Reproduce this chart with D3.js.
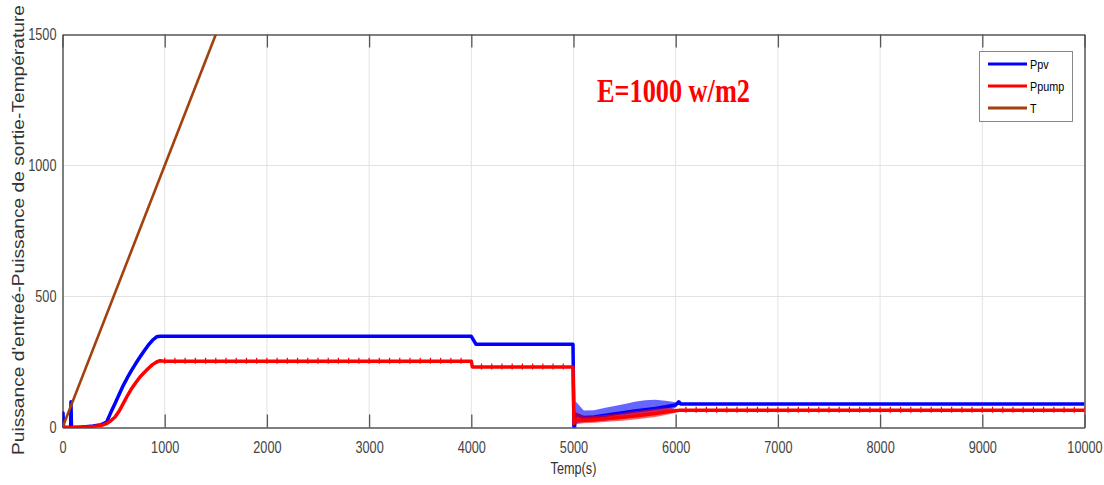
<!DOCTYPE html>
<html>
<head>
<meta charset="utf-8">
<script src="https://cdn.jsdelivr.net/npm/d3@7"></script>
<style>
  html, body { margin: 0; padding: 0; background: #fff; }
  svg { display: block; }
</style>
</head>
<body>
<svg id="chart" width="1104" height="485"></svg>
<script>
// ---- axis ticks ----
const xTicks = [0, 1000, 2000, 3000, 4000, 5000, 6000, 7000, 8000, 9000, 10000];
const yTicks = [0, 500, 1000, 1500];

// ---- Ppv : PV input power ----
const ppvTime  = [0, 5, 10, 80, 83, 88, 150, 200, 203, 206, 300, 380, 432, 470, 514, 555, 595, 636, 677, 718, 758, 800, 839, 880, 921, 954, 1000, 4000, 4045, 4995, 5005, 5020, 5100, 5200, 5300, 5400, 5500, 5600, 5700, 5800, 5900, 6000, 6030, 6050, 10000];
const ppvValue = [0, 55, 0, 0, 98, 0, 1, 2, -15, 2, 6, 11, 21, 55, 92, 127, 161, 191, 219, 245, 269, 293, 314, 333, 346, 348, 348, 348, 318, 318, -25, 50, 38, 40, 46, 52, 57, 63, 68, 73, 79, 86, 98, 90, 90];

// ---- Ppump : pump output power ----
const pumpTime  = [0, 100, 200, 300, 380, 432, 470, 514, 555, 595, 636, 677, 718, 758, 800, 839, 880, 921, 954, 1000, 4000, 4010, 4995, 5005, 5020, 5100, 5200, 5300, 5400, 5500, 5600, 5700, 5800, 5900, 6000, 6040, 10000];
const pumpValue = [0, 0, 1, 4, 8, 15, 25, 40, 63, 92, 122, 149, 172, 193, 210, 225, 240, 250, 255, 253, 253, 231, 231, 15, 30, 28, 30, 33, 37, 40, 44, 49, 53, 59, 64, 66, 66];

// ---- T : temperature ramp ----
const tempTime  = [0, 1500];
const tempValue = [0, 1500];

// ---- oscillation envelope during the 5000-6000 s transient ----
const bandTime = [5020, 5100, 5200, 5300, 5400, 5500, 5600, 5700, 5800, 5900, 6000];
const ppvLow   = [15, 20, 22, 26, 30, 34, 40, 45, 50, 58, 76];
const ppvHigh  = [100, 65, 66, 74, 82, 90, 98, 104, 106, 102, 96];
const pumpLow  = [12, 16, 18, 21, 24, 27, 31, 35, 40, 48, 56];
const pumpHigh = [60, 42, 44, 48, 52, 56, 62, 67, 72, 74, 72];

// ---- switching ripple on the pump power: [start, end, level] ----
const rippleSpans = [[1000, 3900, 253], [4100, 4900, 231], [6100, 10000, 66]];
const ripplePeriod = 100;

// ---- legend entries ----
const seriesNames  = ["Ppv", "Ppump", "T"];
const seriesColors = ["#0000ff", "#ff0000", "#a2400e"];

const titleText  = "E=1000 w/m2";
const xLabelText = "Temp(s)";
const yLabelText = "Puissance d'entreé-Puissance de sortie-Température";

// ---------------------------------------------------------------
const svg = d3.select("#chart");
const plotL = 62.5, plotR = 1084.5, plotT = 34.5, plotB = 427.5;

const x = d3.scaleLinear().domain([0, 10000]).range([plotL, plotR]);
const y = d3.scaleLinear().domain([0, 1500]).range([plotB, plotT]);

const font = "'Liberation Sans', Arial, sans-serif";

// squeeze text horizontally to a narrow face (keeps its anchor point in place)
function condense(sel, k) {
  sel.each(function () {
    const el = d3.select(this);
    const x0 = +el.attr("x") || 0;
    el.attr("x", x0 / k).attr("transform", `scale(${k},1)`);
  });
}

svg.append("defs").append("clipPath").attr("id", "plotClip")
  .append("rect").attr("x", plotL).attr("y", plotT).attr("width", plotR - plotL).attr("height", plotB - plotT);

// grid
const grid = svg.append("g");
grid.selectAll("line.vx").data(xTicks.slice(1, -1)).join("line")
  .attr("x1", d => x(d)).attr("x2", d => x(d)).attr("y1", plotT).attr("y2", plotB)
  .attr("stroke", "#e3e3e3").attr("stroke-width", 1);
grid.selectAll("line.hy").data(yTicks.slice(1, -1)).join("line")
  .attr("x1", plotL).attr("x2", plotR).attr("y1", d => y(d)).attr("y2", d => y(d))
  .attr("stroke", "#e3e3e3").attr("stroke-width", 1);

// bottom axis with inward ticks
const xAxis = svg.append("g").attr("transform", `translate(0,${plotB})`)
  .call(d3.axisBottom(x).tickValues(xTicks).tickFormat(d3.format("d")).tickSizeInner(-13).tickSizeOuter(0).tickPadding(26));
xAxis.select(".domain").attr("stroke", "#555").attr("stroke-width", 1.5);
xAxis.selectAll(".tick line").attr("stroke", "#555").attr("stroke-width", 1.3);
xAxis.selectAll(".tick text").attr("font-family", font).attr("font-size", 16.5).attr("fill", "#444").attr("dy", "0");
condense(xAxis.selectAll(".tick text"), 0.77);

// top axis (ticks only)
const xTop = svg.append("g").attr("transform", `translate(0,${plotT})`)
  .call(d3.axisTop(x).tickValues(xTicks).tickFormat("").tickSizeInner(-13).tickSizeOuter(0));
xTop.select(".domain").attr("stroke", "#555").attr("stroke-width", 1.5);
xTop.selectAll(".tick line").attr("stroke", "#555").attr("stroke-width", 1.3);

// left axis
const yAxis = svg.append("g").attr("transform", `translate(${plotL},0)`)
  .call(d3.axisLeft(y).tickValues(yTicks).tickFormat(d3.format("d")).tickSize(0).tickPadding(6));
yAxis.select(".domain").attr("stroke", "#555").attr("stroke-width", 1.5);
yAxis.selectAll(".tick text").attr("font-family", font).attr("font-size", 16.5).attr("fill", "#444");
condense(yAxis.selectAll(".tick text"), 0.77);

// right border
const yRight = svg.append("g").attr("transform", `translate(${plotR},0)`)
  .call(d3.axisRight(y).tickValues(yTicks).tickFormat("").tickSize(0));
yRight.select(".domain").attr("stroke", "#555").attr("stroke-width", 1.5);

// ---- series ----
const plot = svg.append("g").attr("clip-path", "url(#plotClip)");
const line = d3.line().x(d => x(d[0])).y(d => y(d[1]));
const area = d3.area().x(d => x(d[0])).y0(d => y(d[1])).y1(d => y(d[2]));

const zip2 = (a, b) => a.map((t, i) => [t, b[i]]);
const zip3 = (a, b, c) => a.map((t, i) => [t, b[i], c[i]]);

// Ppv
plot.append("path").datum(zip3(bandTime, ppvLow, ppvHigh)).attr("d", area)
  .attr("fill", seriesColors[0]).attr("opacity", 0.6);
plot.append("path").datum(zip2(ppvTime, ppvValue)).attr("d", line)
  .attr("fill", "none").attr("stroke", seriesColors[0]).attr("stroke-width", 3.5).attr("stroke-linejoin", "round");

// Ppump
plot.append("path").datum(zip3(bandTime, pumpLow, pumpHigh)).attr("d", area)
  .attr("fill", seriesColors[1]).attr("opacity", 0.6);
plot.append("path").datum(zip2(pumpTime, pumpValue)).attr("d", line)
  .attr("fill", "none").attr("stroke", seriesColors[1]).attr("stroke-width", 3.5).attr("stroke-linejoin", "round");
const ripple = [];
rippleSpans.forEach(([a, b, lvl]) => d3.range(a, b + 1, ripplePeriod).forEach(t => ripple.push([t, lvl])));
plot.selectAll("line.ripple").data(ripple).join("line")
  .attr("x1", d => x(d[0])).attr("x2", d => x(d[0]))
  .attr("y1", d => y(d[1] + 13)).attr("y2", d => y(d[1] - 10))
  .attr("stroke", seriesColors[1]).attr("stroke-width", 1.2);

// T
plot.append("path").datum(zip2(tempTime, tempValue)).attr("d", line)
  .attr("fill", "none").attr("stroke", seriesColors[2]).attr("stroke-width", 2.6);

// ---- annotation ----
const title = svg.append("text").attr("x", 597).attr("y", 102.5)
  .attr("font-family", "'Liberation Serif', 'Times New Roman', serif")
  .attr("font-size", 34).attr("font-weight", "bold").attr("fill", "#ff0000")
  .text(titleText);
{
  const k = 153 / title.node().getComputedTextLength();
  condense(title, k);
}

// ---- axis labels ----
const xl = svg.append("text").attr("x", (plotL + plotR) / 2).attr("y", 474)
  .attr("text-anchor", "middle").attr("font-family", font).attr("font-size", 16.5).attr("fill", "#333")
  .text(xLabelText);
condense(xl, 0.77);

svg.append("text").attr("transform", "translate(24,230) rotate(-90)")
  .attr("text-anchor", "middle").attr("font-family", font).attr("font-size", 16).attr("fill", "#333")
  .attr("textLength", 450).attr("lengthAdjust", "spacingAndGlyphs")
  .text(yLabelText);

// ---- legend ----
const lg = svg.append("g");
lg.append("rect").attr("x", 979.5).attr("y", 51.5).attr("width", 93).attr("height", 70)
  .attr("fill", "#fff").attr("stroke", "#888").attr("stroke-width", 1);
const rows = lg.selectAll("g.row").data(seriesNames).join("g")
  .attr("transform", (d, i) => `translate(0,${64 + i * 22})`);
rows.append("line").attr("x1", 988).attr("x2", 1027).attr("y1", 0).attr("y2", 0)
  .attr("stroke", (d, i) => seriesColors[i]).attr("stroke-width", 3);
const lt = rows.append("text").attr("x", 1030).attr("y", 5)
  .attr("font-family", font).attr("font-size", 13.5).attr("fill", "#000").text(d => d);
condense(lt, 0.8);
</script>
</body>
</html>
